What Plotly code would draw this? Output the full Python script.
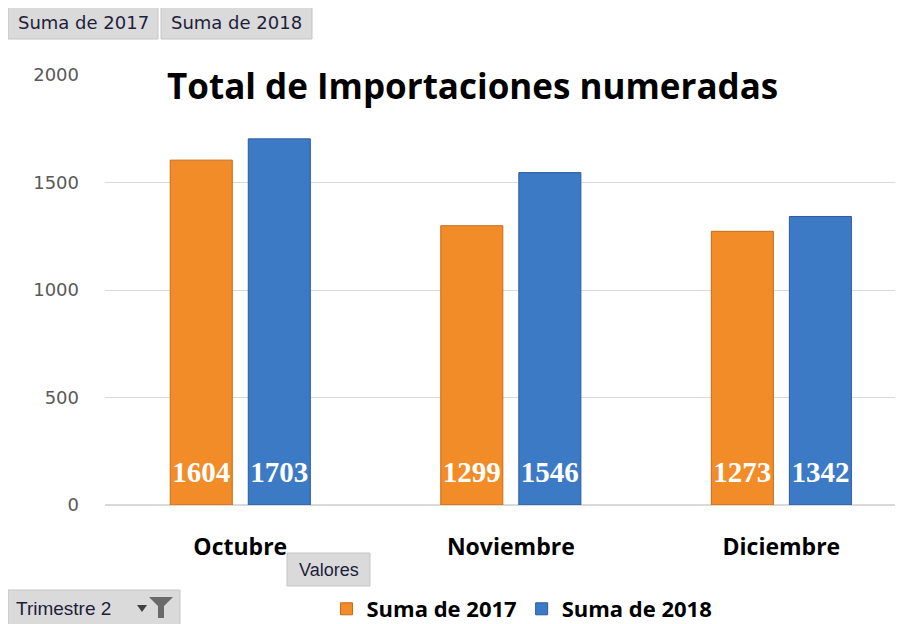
import plotly.graph_objects as go

categories = ["Octubre", "Noviembre", "Diciembre"]
suma_2017 = [1604, 1299, 1273]
suma_2018 = [1703, 1546, 1342]
y_ticks = [0, 500, 1000, 1500, 2000]
title_text = "Total de Importaciones numeradas"

ORANGE = "#F28C28"
BLUE = "#3C7AC6"
LABEL_Y = 140  # vertical placement of the value labels inside the bars (style)

# page offset of 8px (body margin) -> figure 900x616, plot area page x 105..895, y 75..505
W, H = 900, 616
L, R, T, B = 97, 13, 67, 119
PW, PH = W - L - R, H - T - B


def px(x):
    return (x - 105) / PW


def py(y):
    return (505 - y) / PH


BARGAP = 0.423

fig = go.Figure()
fig.add_trace(go.Bar(
    name="Suma de 2017", x=categories, y=suma_2017, offsetgroup="a",
    marker=dict(color=ORANGE, line=dict(color="#C8691A", width=1)),
))
fig.add_trace(go.Bar(
    name="Suma de 2018", x=categories, y=suma_2018, offsetgroup="b",
    marker=dict(color=BLUE, line=dict(color="#2A5C9A", width=1)),
))
for vals, g in ((suma_2017, "a"), (suma_2018, "b")):
    fig.add_trace(go.Scatter(
        x=categories, y=[LABEL_Y] * len(vals), mode="text", offsetgroup=g,
        text=[str(v) for v in vals], textposition="middle center",
        textfont=dict(family="Liberation Serif", size=29, color="white", weight="bold"),
        showlegend=False, hoverinfo="skip", cliponaxis=False,
    ))

shapes = []
annotations = []


def button(x0, y0, x1, y1, text, size=16, family="DejaVu Sans", tx=None):
    shapes.append(dict(type="rect", xref="paper", yref="paper",
                       x0=px(x0), x1=px(x1), y0=py(y1), y1=py(y0),
                       fillcolor="#DADADA", line=dict(color="#C4C4C4", width=1),
                       layer="above"))
    annotations.append(dict(xref="paper", yref="paper",
                            x=px(tx if tx is not None else (x0 + x1) / 2),
                            y=py((y0 + y1) / 2),
                            xanchor="center" if tx is None else "left",
                            yanchor="middle", showarrow=False, text=text,
                            font=dict(family=family, size=size, color="#1E1E3C")))


button(8, 6, 158, 39, "Suma de 2017", size=18)
button(161, 6, 312, 39, "Suma de 2018", size=18)
button(287, 553, 370, 586, "Valores", size=18, family="Liberation Sans")
button(8, 590, 180, 626, "Trimestre 2", size=19, family="Liberation Sans", tx=14)

# small dropdown triangle and funnel icon
shapes.append(dict(type="path", xref="paper", yref="paper",
                   path=f"M {px(137)} {py(605)} L {px(147)} {py(605)} L {px(142)} {py(612)} Z",
                   fillcolor="#404040", line=dict(width=0), layer="above"))
shapes.append(dict(type="path", xref="paper", yref="paper",
                   path=(f"M {px(149)} {py(597)} L {px(173)} {py(597)} L {px(164)} {py(606)} "
                         f"L {px(164)} {py(618)} L {px(158)} {py(618)} L {px(158)} {py(606)} Z"),
                   fillcolor="#6A6A6A", line=dict(width=0), layer="above"))

annotations.append(dict(xref="paper", yref="paper", x=px(472), y=py(86),
                        xanchor="center", yanchor="middle", showarrow=False,
                        text=title_text,
                        font=dict(family="Open Sans", size=35, color="#000000", weight="bold")))

fig.update_layout(
    width=W, height=H,
    margin=dict(l=L, r=R, t=T, b=B, autoexpand=False),
    paper_bgcolor="white", plot_bgcolor="white",
    barmode="group", bargap=BARGAP, bargroupgap=0.205,
    scattermode="group", scattergap=BARGAP,
    showlegend=True,
    legend=dict(orientation="h", x=px(522), xanchor="center", y=py(609), yanchor="middle",
                font=dict(family="Open Sans", size=22, color="#000000", weight="bold"),
                itemwidth=30, traceorder="normal", bgcolor="rgba(0,0,0,0)"),
    xaxis=dict(range=[-0.5, 2.42], showgrid=False, showline=True, linecolor="#D9D9D9",
               ticks="", ticklabelstandoff=21,
               tickfont=dict(family="Open Sans", size=23, color="#000000", weight="bold")),
    yaxis=dict(range=[0, 2000], tickvals=y_ticks, showgrid=True, gridcolor="#D9D9D9",
               zeroline=True, zerolinecolor="#D9D9D9", showline=False, ticks="",
               ticklabelstandoff=25,
               tickfont=dict(family="DejaVu Sans", size=18, color="#595959")),
    shapes=shapes, annotations=annotations,
)

fig.write_html("out.html")
